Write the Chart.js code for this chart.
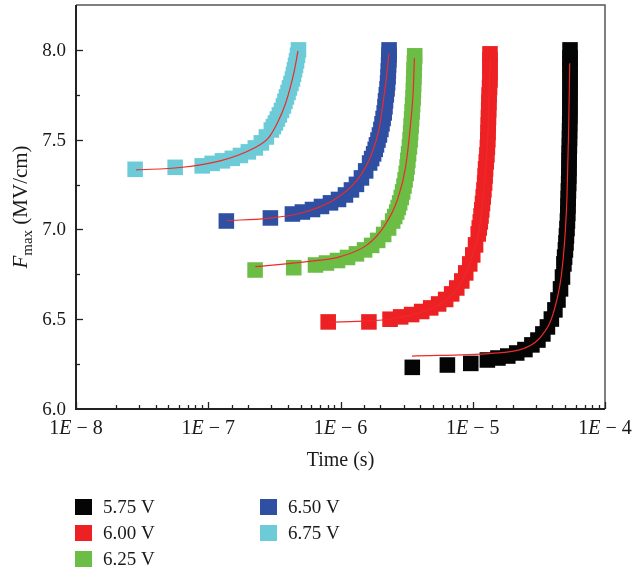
<!DOCTYPE html>
<html>
<head>
<meta charset="utf-8">
<script src="https://cdn.jsdelivr.net/npm/chart.js@4.4.0/dist/chart.umd.min.js"></script>
<style>
  html, body { margin: 0; padding: 0; background: #fff; }
</style>
</head>
<body>
<canvas id="fieldChart" width="633" height="573"></canvas>
<script>
// Series labels and colours (legend order)
const voltages = ['5.75 V', '6.00 V', '6.25 V', '6.50 V', '6.75 V'];
const colors = ['#050505', '#ed2124', '#6cbd45', '#2f4fa2', '#6dcbd8'];
const fitColor = '#ee2a2a';

// Measured points: time (s) and Fmax (MV/cm)
const time575 = [3.49e-6, 6.43e-6, 9.66e-6, 1.29e-5, 1.55e-5, 1.84e-5, 2.15e-5, 2.48e-5, 2.80e-5, 3.11e-5,
  3.39e-5, 3.67e-5, 3.93e-5, 4.18e-5, 4.41e-5, 4.61e-5, 4.77e-5, 4.89e-5, 4.95e-5, 5.02e-5,
  5.07e-5, 5.11e-5, 5.16e-5, 5.20e-5, 5.23e-5, 5.25e-5, 5.27e-5, 5.29e-5, 5.31e-5, 5.33e-5,
  5.34e-5, 5.35e-5, 5.36e-5, 5.38e-5, 5.39e-5, 5.40e-5, 5.41e-5, 5.43e-5, 5.43e-5, 5.43e-5,
  5.44e-5, 5.44e-5, 5.44e-5, 5.44e-5, 5.44e-5, 5.44e-5, 5.44e-5];
const field575 = [6.232, 6.245, 6.254, 6.273, 6.284, 6.295, 6.312, 6.331, 6.357, 6.384,
  6.418, 6.457, 6.501, 6.552, 6.607, 6.669, 6.735, 6.808, 6.846, 6.886,
  6.925, 6.964, 7.005, 7.047, 7.089, 7.131, 7.172, 7.214, 7.256, 7.298,
  7.340, 7.382, 7.424, 7.465, 7.507, 7.549, 7.590, 7.632, 7.674, 7.716,
  7.757, 7.799, 7.841, 7.883, 7.920, 7.955, 8.0];

const time600 = [8.07e-7, 1.64e-6, 2.37e-6, 2.85e-6, 3.45e-6, 4.11e-6, 4.81e-6, 5.52e-6, 6.24e-6, 6.93e-6,
  7.57e-6, 8.26e-6, 8.85e-6, 9.49e-6, 1.00e-5, 1.05e-5, 1.10e-5, 1.12e-5, 1.14e-5, 1.155e-5,
  1.17e-5, 1.185e-5, 1.20e-5, 1.215e-5, 1.23e-5, 1.24e-5, 1.25e-5, 1.265e-5, 1.28e-5, 1.29e-5,
  1.30e-5, 1.305e-5, 1.31e-5, 1.315e-5, 1.32e-5, 1.325e-5, 1.33e-5, 1.34e-5, 1.35e-5, 1.35e-5,
  1.35e-5, 1.35e-5, 1.35e-5];
const field600 = [6.485, 6.485, 6.500, 6.513, 6.526, 6.543, 6.563, 6.585, 6.610, 6.641,
  6.674, 6.713, 6.758, 6.808, 6.858, 6.914, 6.975, 7.008, 7.042, 7.075,
  7.109, 7.145, 7.181, 7.220, 7.259, 7.298, 7.337, 7.376, 7.415, 7.457,
  7.499, 7.540, 7.582, 7.624, 7.666, 7.708, 7.749, 7.791, 7.833, 7.872,
  7.911, 7.945, 7.978];

const time625 = [2.26e-7, 4.43e-7, 6.47e-7, 7.83e-7, 9.49e-7, 1.13e-6, 1.32e-6, 1.52e-6, 1.72e-6, 1.91e-6,
  2.12e-6, 2.31e-6, 2.48e-6, 2.57e-6, 2.66e-6, 2.73e-6, 2.80e-6, 2.88e-6, 2.95e-6, 3.02e-6,
  3.08e-6, 3.14e-6, 3.19e-6, 3.23e-6, 3.27e-6, 3.32e-6, 3.36e-6, 3.39e-6, 3.42e-6, 3.45e-6,
  3.48e-6, 3.51e-6, 3.54e-6, 3.56e-6, 3.57e-6, 3.59e-6, 3.60e-6, 3.62e-6, 3.64e-6];
const field625 = [6.774, 6.787, 6.802, 6.813, 6.827, 6.844, 6.864, 6.886, 6.911, 6.939,
  6.972, 7.008, 7.047, 7.072, 7.097, 7.122, 7.148, 7.178, 7.209, 7.242,
  7.276, 7.312, 7.348, 7.385, 7.421, 7.460, 7.499, 7.538, 7.577, 7.616,
  7.655, 7.694, 7.733, 7.772, 7.811, 7.850, 7.889, 7.928, 7.967];

const time650 = [1.37e-7, 2.95e-7, 4.33e-7, 5.15e-7, 6.14e-7, 7.18e-7, 8.40e-7, 9.66e-7, 1.09e-6, 1.21e-6,
  1.32e-6, 1.44e-6, 1.55e-6, 1.66e-6, 1.72e-6, 1.78e-6, 1.83e-6, 1.87e-6, 1.92e-6, 1.97e-6,
  2.02e-6, 2.06e-6, 2.10e-6, 2.14e-6, 2.17e-6, 2.19e-6, 2.22e-6, 2.25e-6, 2.27e-6, 2.29e-6,
  2.30e-6, 2.31e-6, 2.32e-6, 2.33e-6, 2.33e-6];
const field650 = [7.047, 7.064, 7.086, 7.097, 7.111, 7.128, 7.148, 7.167, 7.192, 7.220,
  7.251, 7.287, 7.326, 7.370, 7.395, 7.421, 7.446, 7.471, 7.498, 7.526,
  7.557, 7.588, 7.618, 7.649, 7.683, 7.716, 7.750, 7.783, 7.816, 7.850,
  7.883, 7.916, 7.944, 7.972, 8.0];

const time675 = [2.80e-8, 5.62e-8, 9.0e-8, 1.07e-7, 1.28e-7, 1.52e-7, 1.75e-7, 2.01e-7, 2.27e-7, 2.52e-7,
  2.75e-7, 3.00e-7, 3.11e-7, 3.22e-7, 3.33e-7, 3.45e-7, 3.58e-7, 3.70e-7, 3.80e-7, 3.90e-7,
  4.01e-7, 4.11e-7, 4.22e-7, 4.33e-7, 4.41e-7, 4.49e-7, 4.57e-7, 4.65e-7, 4.73e-7, 4.81e-7];
const field675 = [7.335, 7.346, 7.354, 7.368, 7.382, 7.396, 7.412, 7.432, 7.454, 7.482,
  7.515, 7.554, 7.573, 7.593, 7.615, 7.638, 7.663, 7.688, 7.713, 7.738,
  7.763, 7.788, 7.813, 7.838, 7.864, 7.889, 7.914, 7.939, 7.970, 8.0];

// Fitted curves (thin red lines)
const fitTime575 = [3.47e-6, 1.37e-5, 2.45e-5, 3.28e-5, 4.13e-5, 4.79e-5, 5.16e-5, 5.31e-5, 5.41e-5];
const fitField575 = [6.295, 6.310, 6.338, 6.403, 6.552, 6.812, 7.183, 7.554, 7.926];
const fitTime600 = [8.07e-7, 1.64e-6, 2.37e-6, 4.11e-6, 6.24e-6, 8.26e-6, 1.00e-5, 1.14e-5, 1.25e-5, 1.31e-5, 1.35e-5];
const fitField600 = [6.483, 6.491, 6.500, 6.540, 6.605, 6.710, 6.860, 7.040, 7.337, 7.582, 7.950];
const fitTime625 = [2.27e-7, 5.60e-7, 1.00e-6, 1.59e-6, 2.13e-6, 2.69e-6, 3.11e-6, 3.39e-6, 3.55e-6, 3.62e-6];
const fitField625 = [6.793, 6.821, 6.849, 6.914, 7.016, 7.164, 7.350, 7.591, 7.777, 7.954];
const fitTime650 = [1.39e-7, 2.79e-7, 4.98e-7, 8.89e-7, 1.34e-6, 1.69e-6, 1.95e-6, 2.13e-6, 2.26e-6, 2.32e-6];
const fitField650 = [7.049, 7.062, 7.090, 7.164, 7.276, 7.406, 7.554, 7.740, 7.889, 7.978];
const fitTime675 = [2.85e-8, 6.14e-8, 1.23e-7, 2.19e-7, 2.85e-7, 3.33e-7, 3.83e-7, 4.18e-7, 4.49e-7, 4.77e-7];
const fitField675 = [7.332, 7.345, 7.382, 7.451, 7.510, 7.593, 7.699, 7.794, 7.889, 7.994];

const serif = 'Liberation Serif';

function pts(t, f) {
    const n = Math.min(t.length, f.length);
    const out = [];
    for (let i = 0; i < n; i++) out.push({ x: t[i], y: f[i] });
    return out;
}

const measured = [[time575, field575], [time600, field600], [time625, field625], [time650, field650], [time675, field675]];
const fits = [[fitTime575, fitField575], [fitTime600, fitField600], [fitTime625, fitField625], [fitTime650, fitField650], [fitTime675, fitField675]];

const datasets = [];
measured.forEach((m, i) => {
    datasets.push({
        label: voltages[i],
        data: pts(m[0], m[1]),
        pointStyle: 'rect',
        pointRadius: 11,
        pointHoverRadius: 11,
        backgroundColor: colors[i],
        borderColor: colors[i],
        borderWidth: 0,
        order: 2
    });
});
fits.forEach((f, i) => {
    datasets.push({
        label: 'fit ' + voltages[i],
        data: pts(f[0], f[1]),
        showLine: true,
        pointRadius: 0,
        borderColor: fitColor,
        borderWidth: 1.2,
        cubicInterpolationMode: 'monotone',
        fill: false,
        order: 1
    });
});

function isMajor(v, step) {
    const r = v / step;
    return Math.abs(r - Math.round(r)) < 1e-6;
}

// frame, inward ticks, tick labels, titles and legend
const framePlugin = {
    id: 'frame',
    afterDraw(chart) {
        const c = chart.ctx;
        const a = chart.chartArea;
        const xs = chart.scales.x;
        const ys = chart.scales.y;
        c.save();

        // box
        c.strokeStyle = '#555';
        c.lineWidth = 1.5;
        c.beginPath();
        c.moveTo(a.left, a.top); c.lineTo(a.right, a.top); c.lineTo(a.right, a.bottom);
        c.stroke();
        c.strokeStyle = '#222';
        c.lineWidth = 2;
        c.beginPath();
        c.moveTo(a.left, a.top); c.lineTo(a.left, a.bottom); c.lineTo(a.right, a.bottom);
        c.stroke();

        // y ticks + labels
        c.lineWidth = 1.3;
        c.strokeStyle = '#222';
        c.fillStyle = '#1a1a1a';
        c.font = '19px "' + serif + '"';
        c.textAlign = 'right';
        c.textBaseline = 'middle';
        ys.ticks.forEach(t => {
            if (t.value >= ys.max - 1e-9) return;
            const yp = ys.getPixelForValue(t.value);
            const major = isMajor(t.value, 0.5);
            if (major) c.fillText(t.value.toFixed(1), a.left - 10, yp + 1);
            if (t.value <= ys.min + 1e-9) return;
            const y = Math.round(yp) + 0.5;
            const len = major ? 7 : 4;
            c.beginPath(); c.moveTo(a.left, y); c.lineTo(a.left + len, y); c.stroke();
        });

        // x ticks + labels
        xs.ticks.forEach(t => {
            const lg = Math.log10(t.value);
            const major = Math.abs(lg - Math.round(lg)) < 1e-9;
            const x = Math.round(xs.getPixelForValue(t.value)) + 0.5;
            const len = major ? 7 : 4;
            c.beginPath(); c.moveTo(x, a.bottom); c.lineTo(x, a.bottom - len); c.stroke();

            if (major) {
                const parts = [
                    ['1', '20px "' + serif + '"'],
                    ['E', 'italic 20px "' + serif + '"'],
                    [' \u2212 ' + Math.abs(Math.round(lg)), '20px "' + serif + '"']
                ];
                let w = 0;
                parts.forEach(p => { c.font = p[1]; w += c.measureText(p[0]).width; });
                let px = xs.getPixelForValue(t.value) - w / 2;
                c.fillStyle = '#1a1a1a';
                c.textBaseline = 'middle';
                c.textAlign = 'left';
                parts.forEach(p => {
                    c.font = p[1];
                    c.fillText(p[0], px, 429);
                    px += c.measureText(p[0]).width;
                });
            }
        });

        // x title
        c.fillStyle = '#1a1a1a';
        c.font = '20px "' + serif + '"';
        c.textAlign = 'center';
        c.textBaseline = 'middle';
        c.fillText('Time (s)', (a.left + a.right) / 2, 461);

        // y title: F_max (MV/cm)
        const yParts = [
            ['F', 'italic 21px "' + serif + '"', 0],
            ['max', '15px "' + serif + '"', 5],
            [' (MV/cm)', '21px "' + serif + '"', 0]
        ];
        let tw = 0;
        yParts.forEach(p => { c.font = p[1]; tw += c.measureText(p[0]).width; });
        c.translate(27, 207);
        c.rotate(-Math.PI / 2);
        c.textAlign = 'left';
        c.textBaseline = 'alphabetic';
        let tx = -tw / 2;
        yParts.forEach(p => {
            c.font = p[1];
            c.fillText(p[0], tx, p[2]);
            tx += c.measureText(p[0]).width;
        });
        c.setTransform(1, 0, 0, 1, 0, 0);

        // legend, two columns
        const legendPos = [[75, 507], [75, 533], [75, 559], [260, 507], [260, 533]];
        c.font = '19px "' + serif + '"';
        c.textAlign = 'left';
        c.textBaseline = 'middle';
        voltages.forEach((v, i) => {
            const p = legendPos[i];
            c.fillStyle = colors[i];
            c.fillRect(p[0], p[1] - 8, 17, 16);
            c.fillStyle = '#1a1a1a';
            c.fillText(v, p[0] + 28, p[1] + 1);
        });

        c.restore();
    }
};

const ctx = document.getElementById('fieldChart').getContext('2d');
const fieldChart = new Chart(ctx, {
    type: 'scatter',
    data: { datasets: datasets },
    options: {
        responsive: false,
        animation: false,
        layout: { autoPadding: false, padding: { left: 0, top: 5, right: 28, bottom: 0 } },
        plugins: {
            legend: { display: false },
            tooltip: { enabled: false }
        },
        scales: {
            x: {
                type: 'logarithmic',
                min: 1e-8,
                max: 1e-4,
                grid: { display: false, drawTicks: false },
                border: { display: false },
                ticks: { display: false },
                afterFit(s) { s.height = 164; }
            },
            y: {
                min: 6,
                max: 8.25,
                grid: { display: false, drawTicks: false },
                border: { display: false },
                ticks: { display: false, stepSize: 0.25 },
                afterFit(s) { s.width = 76; }
            }
        }
    },
    plugins: [framePlugin]
});
</script>
</body>
</html>
